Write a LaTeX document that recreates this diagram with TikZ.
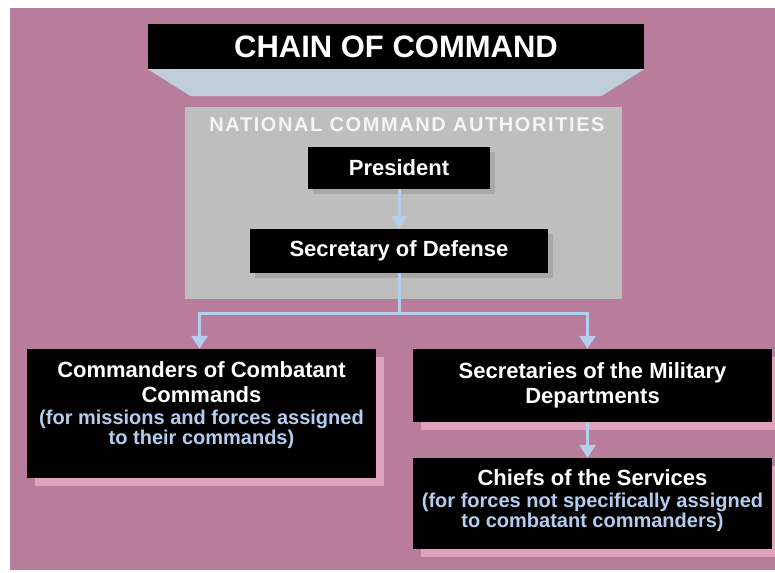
\documentclass[tikz,border=0pt]{standalone}
\usepackage{fontspec}
\setmainfont{Liberation Sans}
\usetikzlibrary{arrows.meta}
\usetikzlibrary{shadows}
\definecolor{bgpink}{RGB}{184,124,156}
\definecolor{shpink}{RGB}{222,162,188}
\definecolor{ncagray}{RGB}{190,190,190}
\definecolor{shgray}{RGB}{168,168,168}
\definecolor{banblue}{RGB}{192,206,218}
\definecolor{arrblue}{RGB}{180,206,236}
\definecolor{subblue}{RGB}{180,204,238}
\newcommand{\subtxt}[1]{{\fontsize{20}{21}\selectfont\color{subblue}#1}}
\tikzset{
    blackbox/.style = {rectangle, fill=black, text=white, align=center,
        inner sep=0pt, font=\bfseries\fontsize{22}{25}\selectfont},
    ncabox/.style = {blackbox, general shadow={fill=shgray, shadow xshift=5pt, shadow yshift=-5pt}},
    cmdbox/.style = {blackbox, general shadow={fill=shpink, shadow xshift=8pt, shadow yshift=-8pt}},
    flow/.style = {line width=3pt, draw=arrblue, -{Triangle[width=16pt,length=13pt]}},
    flown/.style = {line width=3pt, draw=arrblue}, % no tip
}

\begin{document}
\begin{tikzpicture}[x=1pt,y=-1pt]
\useasboundingbox (0,0) rectangle (775,572);
\fill[bgpink] (10,8) rectangle (775,570);
%
\node[blackbox, minimum width=496pt, minimum height=45pt, font=\bfseries\fontsize{31}{34}\selectfont] at (396,46.5) (title) {CHAIN OF COMMAND};
\fill[banblue] (title.south west) -- (title.south east) -- ([xshift=-43pt,yshift=-27pt]title.south east) -- ([xshift=43pt,yshift=-27pt]title.south west) -- cycle;
%
\node[rectangle, fill=ncagray, minimum width=437pt, minimum height=192pt] at (403.5,203) (nca) {};
\node[text=white!92!gray, font=\bfseries\fontsize{20}{22}\selectfont\addfontfeature{LetterSpace=8}] at (407,125) (ncatext) {NATIONAL COMMAND AUTHORITIES};
\node[ncabox, minimum width=182pt, minimum height=42pt] at (399,168) (pres) {President};
\node[ncabox, minimum width=298pt, minimum height=44pt] at (399,251) (secdef) {Secretary of Defense};
%
\node[cmdbox, minimum width=349pt, minimum height=129pt] at (201.5,413.5) (ccmd) {Commanders of Combatant\\Commands\\[-3pt]\subtxt{(for missions and forces assigned}\\[-5pt]\subtxt{to their commands)}\\[-4pt]\mbox{}};
\node[cmdbox, minimum width=359pt, minimum height=73pt] at (592.5,385.5) (secmil) {Secretaries of the Military\\Departments};
\node[cmdbox, minimum width=359pt, minimum height=91pt] at (592.5,503.5) (chiefs) {Chiefs of the Services\\[-3pt]\subtxt{(for forces not specifically assigned}\\[-5pt]\subtxt{to combatant commanders)}\\[-15pt]\mbox{}};
\coordinate (split) at (399,313);
%
\draw[flow] (pres) -- (secdef);
\draw[flown] (secdef.south) -- (split);
\draw[flow] (split) -| ([xshift=-2pt]ccmd.north);
\draw[flow] (split) -| ([xshift=-5pt]secmil.north);
\draw[flow] ([xshift=-5pt]secmil.south) -- ([xshift=-5pt]chiefs.north);
\end{tikzpicture}
\end{document}
